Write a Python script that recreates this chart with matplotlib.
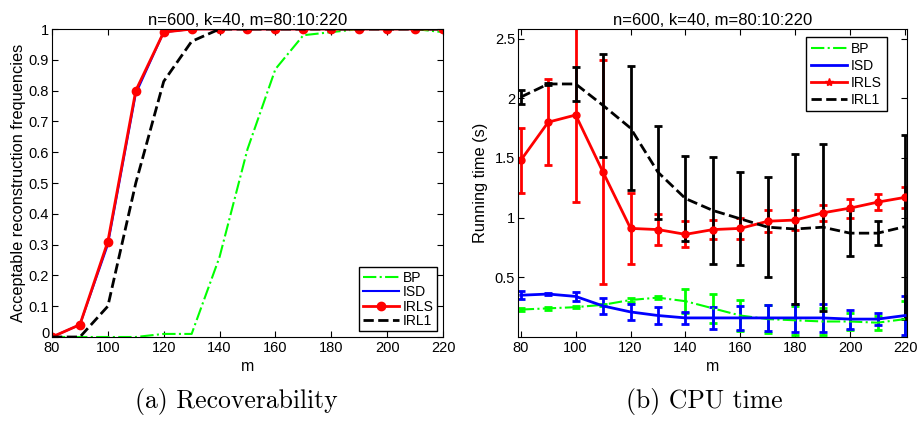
import matplotlib
matplotlib.use("Agg")
import matplotlib.pyplot as plt
import matplotlib.transforms as mtransforms

plt.rcParams['font.family'] = ['Liberation Sans', 'DejaVu Sans']

# shared x values
m = [80, 90, 100, 110, 120, 130, 140, 150, 160, 170, 180, 190, 200, 210, 220]

# (a) recoverability
rec_bp = [0, 0, 0, 0, 0.01, 0.01, 0.26, 0.61, 0.87, 0.98, 0.99, 1, 1, 1, 0.99]
rec_isd = [0, 0.04, 0.3, 0.79, 0.99, 1, 1, 1, 1, 1, 1, 1, 1, 1, 1]
rec_irls = [0, 0.04, 0.31, 0.8, 0.99, 1, 1, 1, 1, 1, 1, 1, 1, 1, 1]
rec_irl1 = [0, 0, 0.1, 0.5, 0.83, 0.96, 1, 1, 1, 1, 1, 1, 1, 1, 1]

# (b) cpu time, mean and std
t_bp = [0.23, 0.24, 0.25, 0.27, 0.31, 0.33, 0.30, 0.24, 0.18, 0.15, 0.14, 0.13, 0.13, 0.12, 0.15]
e_bp = [0.01, 0.01, 0.01, 0.01, 0.02, 0.01, 0.10, 0.12, 0.13, 0.12, 0.12, 0.11, 0.07, 0.06, 0.15]
t_isd = [0.35, 0.36, 0.34, 0.26, 0.21, 0.18, 0.16, 0.16, 0.16, 0.16, 0.16, 0.16, 0.15, 0.15, 0.18]
e_isd = [0.035, 0.01, 0.04, 0.07, 0.07, 0.07, 0.05, 0.09, 0.10, 0.11, 0.12, 0.12, 0.08, 0.05, 0.16]
t_irls = [1.48, 1.80, 1.86, 1.38, 0.91, 0.90, 0.86, 0.90, 0.91, 0.97, 0.98, 1.04, 1.08, 1.13, 1.17]
e_irls = [0.27, 0.36, 0.73, 0.94, 0.30, 0.13, 0.11, 0.08, 0.09, 0.09, 0.08, 0.07, 0.08, 0.07, 0.09]
t_irl1 = [2.01, 2.12, 2.12, 1.94, 1.75, 1.38, 1.16, 1.06, 0.99, 0.92, 0.905, 0.92, 0.87, 0.87, 0.925]
e_irl1 = [0.06, 0.01, 0.14, 0.43, 0.52, 0.39, 0.355, 0.45, 0.39, 0.42, 0.625, 0.70, 0.19, 0.10, 0.77]

title = 'n=600, k=40, m=80:10:220'
green = (0, 1, 0)

fig = plt.figure(figsize=(9.17, 4.23), dpi=100)

ax1 = fig.add_axes([0.0567, 0.2033, 0.4264, 0.728])
ax1.plot(m, rec_bp, '-.', color=green, lw=1.5, label='BP')
ax1.plot(m, rec_isd, '-', color='blue', lw=1.5, label='ISD')
ax1.plot(m, rec_irls, '-', color='red', lw=2, marker='o', ms=6, label='IRLS')
ax1.plot(m, rec_irl1, '--', color='black', lw=2, label='IRL1')
ax1.set_xlim(80, 220)
ax1.set_ylim(0, 1)
ax1.set_xticks(range(80, 221, 20))
ax1.set_yticks([i / 10 for i in range(11)])
ax1.set_yticklabels(['0'] + ['%.1f' % (i / 10) for i in range(1, 10)] + ['1'])
ax1.set_xlabel('m', fontsize=11.5, labelpad=3)
ax1.set_ylabel('Acceptable reconstruction frequencies', fontsize=11.8, labelpad=2)
ax1.set_title(title, fontsize=12, pad=3)
leg1 = ax1.legend(loc='lower right', fontsize=10, handlelength=2.6, borderpad=0.25,
                  labelspacing=0.03, handletextpad=0.3, fancybox=False, framealpha=1,
                  borderaxespad=0.4)
leg1.get_frame().set_edgecolor('black')

ax2 = fig.add_axes([0.5649, 0.2033, 0.4242, 0.728])
ebkw = dict(capsize=3, elinewidth=2, capthick=2)
ax2.errorbar(m, t_bp, yerr=e_bp, fmt='-.', color=green, lw=1.5, label='BP', **ebkw)
ax2.errorbar(m, t_isd, yerr=e_isd, fmt='-', color='blue', lw=2, label='ISD', **ebkw)
ax2.errorbar(m, t_irls, yerr=e_irls, fmt='-', color='red', lw=2, marker='o', ms=5,
             label='IRLS', **ebkw)
ax2.errorbar(m, t_irl1, yerr=e_irl1, fmt='--', color='black', lw=2, label='IRL1', **ebkw)
ax2.set_xlim(79, 220.7)
ax2.set_ylim(0, 2.58)
ax2.set_xticks(range(80, 221, 20))
ax2.set_yticks([0.5, 1, 1.5, 2, 2.5])
ax2.set_yticklabels(['0.5', '1', '1.5', '2', '2.5'])
ax2.set_xlabel('m', fontsize=11.5, labelpad=3)
ax2.set_ylabel('Running time (s)', fontsize=11.8, labelpad=5)
ax2.set_title(title, fontsize=12, pad=3)
h, l = ax2.get_legend_handles_labels()
h = [x[0] for x in h]
h[2] = plt.Line2D([], [], color='red', lw=2, marker='*', ms=6)
leg2 = ax2.legend(h, l, loc='upper right', fontsize=10, handlelength=2.6, borderpad=0.35,
                  labelspacing=0.2, handletextpad=0.3, fancybox=False, framealpha=1,
                  borderaxespad=0.6, bbox_to_anchor=(0.969, 1.0))
leg2.get_frame().set_edgecolor('black')

for ax in (ax1, ax2):
    ax.tick_params(direction='in', top=True, right=True, labelsize=10.5, length=4, pad=2)
    ax.tick_params(axis='x', pad=3)
    for s in ax.spines.values():
        s.set_linewidth(0.8)

# nudge the "0" label up a little so it does not sit on "80"
zero = ax1.get_yticklabels()[0]
zero.set_transform(zero.get_transform() +
                   mtransforms.ScaledTranslation(0, 3 / 72, fig.dpi_scale_trans))

fig.text(0.258, 0.05, '(a) Recoverability', ha='center', va='center', fontsize=18.5,
         family='cmr10')
fig.text(0.768, 0.05, '(b) CPU time', ha='center', va='center', fontsize=18.5,
         family='cmr10')

fig.savefig('out.png', dpi=100)
